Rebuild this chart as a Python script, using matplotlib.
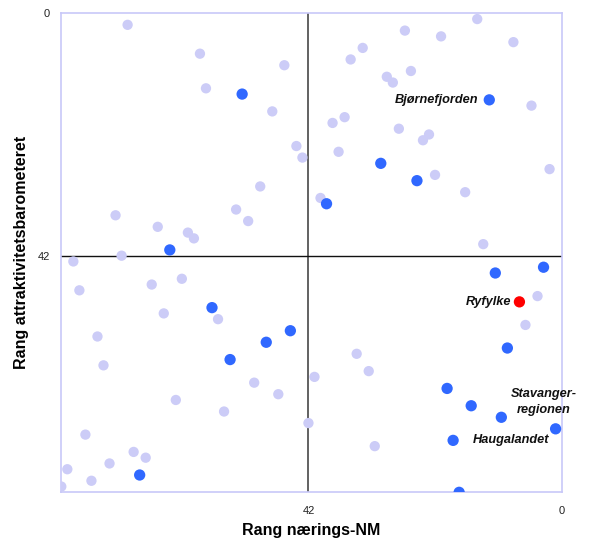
import matplotlib
matplotlib.use("Agg")
import matplotlib.pyplot as plt

plt.rcParams['font.family'] = ['Liberation Sans', 'DejaVu Sans']

# Ranks: x = Rang nærings-NM, y = Rang attraktivitetsbarometeret
other_x = [72, 60, 59, 74, 67, 62, 61, 73, 46, 48, 44, 43, 50, 54, 52, 33, 35, 29, 28, 36,
           38, 27, 37, 40, 14, 26, 20, 8, 25, 5, 22, 23, 2, 21, 16, 13, 81, 80, 68, 63,
           57, 66, 77, 76, 64, 56, 79, 71, 69, 75, 82, 78, 83, 51, 47, 41, 34, 32, 42, 31,
           4, 6]
other_y = [2, 7, 13, 35, 37, 38, 39, 42, 9, 17, 23, 25, 30, 34, 36, 6, 8, 11, 12, 18,
           19, 20, 24, 32, 1, 3, 4, 5, 10, 16, 21, 22, 27, 28, 31, 40, 43, 48, 47, 46,
           53, 52, 56, 61, 67, 69, 73, 76, 77, 78, 79, 81, 82, 64, 66, 63, 59, 62, 71, 75,
           49, 54]

west_x = [65, 53, 30, 39, 12, 24, 58, 55, 45, 49, 70, 11, 3, 9, 19, 15, 10, 1, 18, 17]
west_y = [41, 14, 26, 33, 15, 29, 51, 60, 55, 57, 80, 45, 44, 58, 65, 68, 70, 72, 74, 83]

ryfylke_x = [7]
ryfylke_y = [50]

labels = ["Bjørnefjorden", "Ryfylke", "Stavanger-\nregionen", "Haugalandet"]
label_pts = [(12, 15), (7, 50), (1, 72), (18, 74)]

tick_vals = [0, 42]
tick_labels = ["0", "42"]

fig = plt.figure(figsize=(5.9, 5.4), dpi=100)
ax = fig.add_axes([0.1039, 0.0883, 0.848, 0.8871])

ax.scatter(other_x, other_y, s=55, color='#ccccf7', edgecolors='none', zorder=3)
ax.scatter(west_x, west_y, s=66, color='#3068ff', edgecolors='none', zorder=4)
ax.scatter(ryfylke_x, ryfylke_y, s=66, color='#ff0000', edgecolors='none', zorder=5)

ax.axvline(42, color='#555555', lw=1.3, zorder=2)
ax.axhline(42, color='#111111', lw=1.0, zorder=2)

ax.set_xlim(83, 0)
ax.set_ylim(83, 0)

ax.set_xticks(tick_vals)
ax.set_xticklabels(tick_labels)
ax.set_yticks(tick_vals)
ax.set_yticklabels(tick_labels)
ax.tick_params(length=0, labelsize=8, colors='#222222')
ax.tick_params(axis='x', pad=10)
ax.tick_params(axis='y', pad=8)

for sp in ax.spines.values():
    sp.set_color('#c8c8f8')
    sp.set_linewidth(1.2)

ax.set_xlabel("Rang nærings-NM", fontsize=11.5, fontweight='bold', labelpad=5)
ax.set_ylabel("Rang attraktivitetsbarometeret", fontsize=11.5, fontweight='bold', labelpad=6)

ann = dict(fontsize=9.2, fontweight='bold', fontstyle='italic', color='#111111')
bx, by = label_pts[0]
ax.annotate(labels[0], (bx, by), xytext=(-8, 0), textcoords='offset points',
            ha='right', va='center', **ann)
rx, ry = label_pts[1]
ax.annotate(labels[1], (rx, ry), xytext=(-6, 0), textcoords='offset points',
            ha='right', va='center', **ann)
sx, sy = label_pts[2]
ax.annotate(labels[2], (sx, sy), xytext=(-8.5, 19.5), textcoords='offset points',
            ha='center', va='center', multialignment='center', linespacing=1.4, **ann)
hx, hy = label_pts[3]
ax.annotate(labels[3], (hx, hy), xytext=(14, 0), textcoords='offset points',
            ha='left', va='center', **ann)

fig.savefig("out.png", dpi=100)
